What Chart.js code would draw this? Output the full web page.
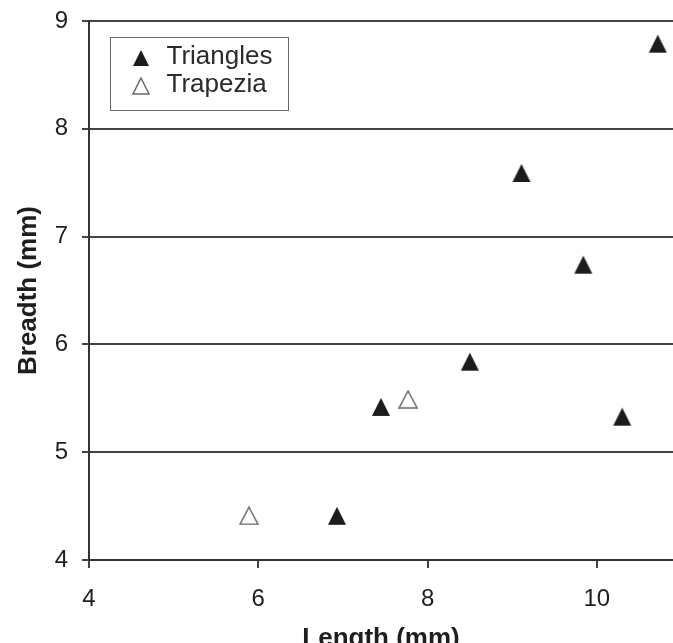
<!DOCTYPE html>
<html><head><meta charset="utf-8">
<script src="https://cdn.jsdelivr.net/npm/chart.js@4/dist/chart.umd.min.js"></script>
<style>html,body{margin:0;padding:0;background:#fff;overflow:hidden}</style>
</head><body>
<canvas id="c" width="673" height="643" style="display:block;width:673px;height:643px"></canvas>
<script>
const seriesNames = ['Triangles', 'Trapezia'];
const triX = [6.93, 7.45, 8.50, 9.11, 9.84, 10.30, 10.72];
const triY = [4.41, 5.42, 5.84, 7.59, 6.74, 5.33, 8.79];
const trapX = [5.89, 7.77];
const trapY = [4.41, 5.49];
const xTicks = [4, 6, 8, 10];
const yTicks = [4, 5, 6, 7, 8, 9];
const xTitle = 'Length (mm)';
const yTitle = 'Breadth (mm)';

const FONT = '"Liberation Sans", Arial, sans-serif';

function tri(w, h, filled) {
  const c = document.createElement('canvas');
  c.width = w + 2; c.height = h + 2;
  const g = c.getContext('2d');
  g.beginPath();
  g.moveTo((w + 2) / 2, 1);
  g.lineTo(w + 1, h + 1);
  g.lineTo(1, h + 1);
  g.closePath();
  if (filled) { g.fillStyle = '#1c1c1c'; g.fill(); }
  else { g.fillStyle = '#fff'; g.fill(); g.strokeStyle = '#6a6a6a'; g.lineWidth = 1.5; g.stroke(); }
  return c;
}

const markFilled = tri(18, 18, true);
const markOpen = tri(18, 17, false);
const legFilled = tri(16, 16, true);
const legOpen = tri(16, 16, false);

const zip = (xs, ys) => xs.map((x, i) => ({x: x, y: ys[i]}));

const legendBox = {
  id: 'legendBox',
  afterDraw(chart) {
    const ctx = chart.ctx;
    ctx.save();
    ctx.strokeStyle = '#666';
    ctx.lineWidth = 1;
    ctx.strokeRect(110.5, 37.5, 178, 73);
    const imgs = [legFilled, legOpen];
    chart.data.datasets.forEach((ds, i) => {
      const img = imgs[i];
      const cy = 58 + i * 27.5;
      ctx.drawImage(img, Math.round(141 - img.width / 2), Math.round(cy - img.height / 2));
      ctx.font = '26px ' + FONT;
      ctx.fillStyle = '#2a2a2a';
      ctx.textBaseline = 'alphabetic';
      ctx.textAlign = 'left';
      ctx.fillText(ds.label, 166.5, 64 + i * 28);
    });
    ctx.restore();
  }
};

new Chart(document.getElementById('c'), {
  type: 'scatter',
  data: {
    datasets: [
      {label: seriesNames[0], data: zip(triX, triY), pointStyle: markFilled, showLine: false},
      {label: seriesNames[1], data: zip(trapX, trapY), pointStyle: markOpen, showLine: false}
    ]
  },
  options: {
    responsive: false,
    animation: false,
    devicePixelRatio: 1,
    layout: {autoPadding: false, padding: {top: 21, right: 0, left: 0, bottom: 0}},
    plugins: {legend: {display: false}, tooltip: {enabled: false}},
    scales: {
      x: {
        type: 'linear', min: 4, max: 10.9,
        afterBuildTicks: s => { s.ticks = xTicks.map(v => ({value: v})); },
        afterFit: s => { s.height = 83; s.paddingLeft = 0; s.paddingRight = 0; },
        grid: {drawOnChartArea: false, drawTicks: true, tickLength: 8, color: '#444', lineWidth: 2},
        border: {display: true, color: '#333', width: 2},
        ticks: {font: {family: FONT, size: 24}, color: '#1e1e1e', padding: 17, maxRotation: 0, autoSkip: false},
        title: {display: true, text: xTitle, font: {family: FONT, size: 26, weight: 'bold'}, color: '#1e1e1e', padding: {top: 0, bottom: -11}}
      },
      y: {
        type: 'linear', min: 4, max: 9,
        afterBuildTicks: s => { s.ticks = yTicks.map(v => ({value: v})); },
        afterFit: s => { s.width = 89; s.paddingTop = 0; s.paddingBottom = 0; },
        grid: {color: '#444', lineWidth: 2, tickLength: 7},
        border: {display: true, color: '#333', width: 2},
        ticks: {font: {family: FONT, size: 24}, color: '#1e1e1e', padding: 14},
        title: {display: true, text: yTitle, font: {family: FONT, size: 26, weight: 'bold'}, color: '#1e1e1e', padding: {top: 13, bottom: 0}}
      }
    }
  },
  plugins: [legendBox]
});
</script>
</body></html>
